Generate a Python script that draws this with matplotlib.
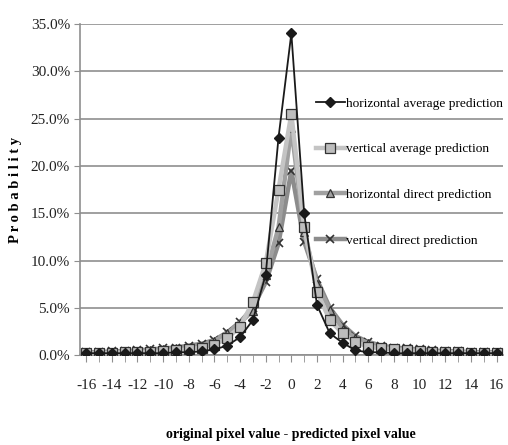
import matplotlib
matplotlib.use('Agg')
from matplotlib import pyplot as plt
from matplotlib.ticker import FuncFormatter, MultipleLocator

# difference between original and predicted pixel value
diffs = list(range(-16, 17))

# probability (%) for each prediction method
horizontal_average = [0.2, 0.2, 0.2, 0.2, 0.2, 0.2, 0.2, 0.3, 0.3, 0.4, 0.6, 1.0, 1.9, 3.7, 8.5, 23.0, 34.0,
                      15.0, 5.3, 2.3, 1.3, 0.5, 0.3, 0.3, 0.2, 0.2, 0.2, 0.2, 0.2, 0.2, 0.2, 0.2, 0.2]
vertical_average = [0.2, 0.2, 0.2, 0.3, 0.3, 0.3, 0.4, 0.5, 0.6, 0.8, 1.1, 1.8, 3.0, 5.6, 9.7, 17.5, 25.5,
                    13.5, 6.7, 3.7, 2.3, 1.4, 0.9, 0.7, 0.6, 0.5, 0.4, 0.3, 0.3, 0.3, 0.2, 0.2, 0.2]
horizontal_direct = [0.3, 0.3, 0.3, 0.4, 0.4, 0.5, 0.6, 0.7, 0.8, 1.0, 1.5, 2.3, 3.4, 4.7, 8.5, 13.5, 24.0,
                     13.0, 7.5, 4.8, 2.8, 1.8, 1.3, 0.9, 0.7, 0.6, 0.5, 0.4, 0.4, 0.3, 0.3, 0.3, 0.3]
vertical_direct = [0.3, 0.3, 0.4, 0.4, 0.5, 0.6, 0.7, 0.8, 1.0, 1.2, 1.6, 2.4, 3.5, 5.0, 7.7, 11.8, 19.5,
                   12.0, 8.0, 5.0, 3.2, 2.0, 1.4, 1.0, 0.8, 0.7, 0.6, 0.5, 0.4, 0.4, 0.3, 0.3, 0.3]

plt.rcParams['font.family'] = ['Liberation Serif', 'DejaVu Serif']
plt.rcParams['axes.unicode_minus'] = False

fig = plt.figure(figsize=(5.08, 4.45), dpi=100)
ax = fig.add_axes([0.157, 0.202, 0.833, 0.744])

ax.plot(diffs, vertical_direct, color='#8c8c8c', lw=3.2, marker='x', ms=6, mew=1.2,
        mec='#333333', label='vertical direct prediction', zorder=3)
ax.plot(diffs, horizontal_direct, color='#a0a0a0', lw=3.2, marker='^', ms=6,
        mfc='#a0a0a0', mec='#333333', mew=0.9, label='horizontal direct prediction', zorder=4)
ax.plot(diffs, vertical_average, color='#c4c4c4', lw=3.2, marker='s', ms=7,
        mfc='#bdbdbd', mec='#333333', mew=0.9, label='vertical average prediction', zorder=5)
ax.plot(diffs, horizontal_average, color='#1a1a1a', lw=1.3, marker='D', ms=5.5,
        mfc='#1a1a1a', mec='#1a1a1a', label='horizontal average prediction', zorder=6)

ax.set_xlim(-16.5, 16.5)
ax.set_ylim(0, 35)
ax.yaxis.set_major_locator(MultipleLocator(5))
ax.yaxis.set_major_formatter(FuncFormatter(lambda v, p: '%.1f%%' % v))
ax.xaxis.set_major_locator(MultipleLocator(2))
ax.xaxis.set_minor_locator(MultipleLocator(1))
ax.grid(axis='y', color='#8f8f8f', lw=1.2, zorder=0)
ax.set_axisbelow(True)

for s in ['top', 'right']:
    ax.spines[s].set_visible(False)
for s in ['left', 'bottom']:
    ax.spines[s].set_color('#8f8f8f')
    ax.spines[s].set_linewidth(1.2)

ax.tick_params(axis='x', which='both', direction='out', length=5, color='#8f8f8f', pad=12, labelsize=11)
ax.tick_params(axis='y', direction='out', length=4, color='#8f8f8f', labelsize=11, pad=3)
for lbl in ax.get_xticklabels() + ax.get_yticklabels():
    lbl.set_color('#222222')

ax.set_xlabel('original pixel value - predicted pixel value', fontsize=10, fontweight='bold', labelpad=26)
ax.set_ylabel('P r o b a b i l i t y', fontsize=10.5, fontweight='bold', labelpad=6)

handles, labels = ax.get_legend_handles_labels()
ax.legend(handles[::-1], labels[::-1], loc='upper left', bbox_to_anchor=(0.545, 0.795),
          frameon=False, fontsize=9.6, handlelength=2.2, handletextpad=0.1,
          labelspacing=2.5, borderaxespad=0)

fig.savefig('out.png', dpi=100)
